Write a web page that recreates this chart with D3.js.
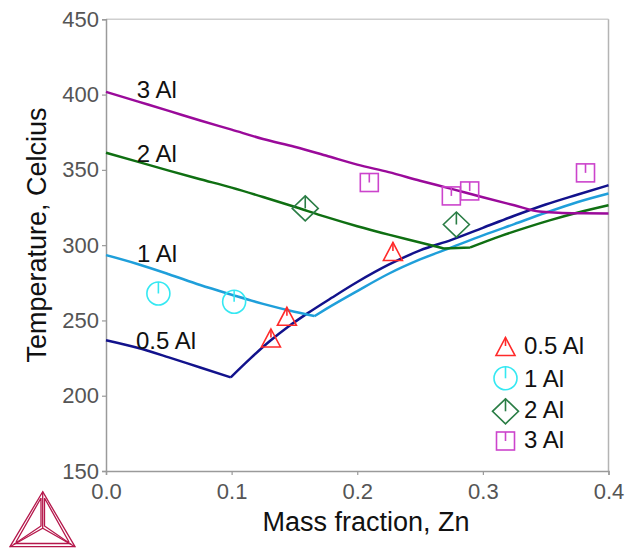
<!DOCTYPE html>
<html>
<head>
<meta charset="utf-8">
<script src="https://cdn.jsdelivr.net/npm/d3@7"></script>
<style>
  html, body { margin: 0; padding: 0; background: #fff; }
  svg { display: block; font-family: "Liberation Sans", Arial, sans-serif; }
</style>
</head>
<body>
<svg id="chart" width="631" height="548"></svg>
<script>
// ---- Data ----
const xTicks = [0.0, 0.1, 0.2, 0.3, 0.4];
const yTicks = [150, 200, 250, 300, 350, 400, 450];

// Calculated lines: mass fraction Zn vs temperature (Celcius)
const line05AlX = [0, 0.025, 0.05, 0.075, 0.0993, 0.115, 0.13, 0.145, 0.16, 0.18, 0.2, 0.225, 0.25, 0.275, 0.3, 0.325, 0.35, 0.375, 0.4];
const line05AlT = [236.9, 231.9, 225.5, 218.7, 212.2, 224.8, 236, 245.8, 254.5, 265.2, 275.5, 287, 296.5, 303.5, 311.5, 319.5, 327, 333.5, 339.8];

const line1AlX = [0, 0.025, 0.05, 0.075, 0.1, 0.125, 0.15, 0.166, 0.175, 0.2, 0.225, 0.25, 0.275, 0.3, 0.325, 0.35, 0.375, 0.4];
const line1AlT = [293.4, 287.5, 280.7, 273.5, 267.1, 261, 255.8, 252.9, 257.5, 269.5, 281, 290.5, 298.5, 306.5, 314, 321.5, 328.5, 334.3];

const line2AlX = [0, 0.025, 0.05, 0.075, 0.1, 0.125, 0.15, 0.175, 0.2, 0.225, 0.25, 0.2688, 0.29, 0.314, 0.335, 0.3538, 0.375, 0.4];
const line2AlT = [361.4, 355.5, 349.5, 343.8, 338.2, 332, 325.5, 318.8, 312.6, 307, 301.8, 297.8, 298.5, 306, 311.8, 316.6, 321.5, 326.5];

const line3AlX = [0, 0.025, 0.05, 0.075, 0.1, 0.125, 0.15, 0.175, 0.2, 0.225, 0.25, 0.275, 0.3, 0.325, 0.345, 0.36, 0.38, 0.4];
const line3AlT = [401.8, 395.5, 389.2, 382.8, 376.7, 370.5, 365.3, 359.5, 353.5, 348.5, 342.8, 337.4, 331.8, 326.5, 322.3, 321.6, 321.2, 321];

// Experimental points
const exp05AlX = [0.1313, 0.144, 0.2284];
const exp05AlT = [238, 252.4, 295.5];
const exp1AlX = [0.0417, 0.102];
const exp1AlT = [267.9, 262.4];
const exp2AlX = [0.1586, 0.2789];
const exp2AlT = [324.4, 313.7];
const exp3AlX = [0.2096, 0.2749, 0.2895, 0.3817];
const exp3AlT = [341.6, 332.7, 336.0, 348.0];

const seriesNames = ["0.5 Al", "1 Al", "2 Al", "3 Al"];

// ---- Styling / layout ----
const lineColors = ["#12128c", "#1f9fda", "#0f6f12", "#9a0a9a"];
const markerColors = ["#ff2a2a", "#35e8f2", "#2a7d45", "#cc44cc"];
const markerShapes = ["triangle", "circle", "diamond", "square"];

const svg = d3.select("#chart");
const x = d3.scaleLinear().domain([0, 0.4]).range([106, 608.5]);
const y = d3.scaleLinear().domain([150, 450]).range([471, 19.3]);

// frame (top/right light)
svg.append("line").attr("x1", x(0)).attr("x2", x(0.4)).attr("y1", y(450)).attr("y2", y(450))
  .attr("stroke", "#cfcfcf").attr("stroke-width", 1.5);
svg.append("line").attr("x1", x(0.4)).attr("x2", x(0.4)).attr("y1", y(450)).attr("y2", y(150))
  .attr("stroke", "#b4b4b4").attr("stroke-width", 1.5);

// axes
const yAxis = svg.append("g").attr("transform", `translate(${x(0)},0)`)
  .call(d3.axisLeft(y).tickValues(yTicks).tickFormat(d3.format("d")).tickSize(4).tickPadding(3));
const xAxis = svg.append("g").attr("transform", `translate(0,${y(150)})`)
  .call(d3.axisBottom(x).tickValues(xTicks).tickFormat(d3.format(".1f")).tickSize(4).tickPadding(8));
[yAxis, xAxis].forEach(g => {
  g.select(".domain").attr("stroke", "#9a9a9a").attr("stroke-width", 1.5);
  g.selectAll(".tick line").attr("stroke", "#9a9a9a").attr("stroke-width", 1.2);
  g.selectAll(".tick text").attr("fill", "#555").style("font-size", "22px")
    .style("font-family", "'Liberation Sans', Arial, sans-serif");
});

// axis titles
svg.append("text").attr("x", 366).attr("y", 530.5).attr("text-anchor", "middle")
  .style("font-size", "27px").attr("fill", "#111").text("Mass fraction, Zn");
svg.append("text").attr("transform", "translate(45.5,235) rotate(-90)").attr("text-anchor", "middle")
  .style("font-size", "27px").attr("fill", "#111").text("Temperature, Celcius");

// lines: split at sharp bends, smooth each piece
const lineData = [
  d3.zip(line05AlX, line05AlT),
  d3.zip(line1AlX, line1AlT),
  d3.zip(line2AlX, line2AlT),
  d3.zip(line3AlX, line3AlT)
];
const lineGen = d3.line().x(d => x(d[0])).y(d => y(d[1])).curve(d3.curveMonotoneX);
function splitAtBends(pts) {
  const pieces = [];
  let cur = [pts[0]];
  for (let i = 1; i < pts.length; i++) {
    cur.push(pts[i]);
    if (i < pts.length - 1) {
      const a1 = Math.atan2(y(pts[i][1]) - y(pts[i-1][1]), x(pts[i][0]) - x(pts[i-1][0]));
      const a2 = Math.atan2(y(pts[i+1][1]) - y(pts[i][1]), x(pts[i+1][0]) - x(pts[i][0]));
      if (Math.abs(a2 - a1) > 0.22) { pieces.push(cur); cur = [pts[i]]; }
    }
  }
  pieces.push(cur);
  return pieces;
}
const plot = svg.append("g");
lineData.forEach((d, i) => {
  const dStr = splitAtBends(d).map(p => lineGen(p)).join("");
  plot.append("path").attr("d", dStr).attr("fill", "none")
    .attr("stroke", lineColors[i]).attr("stroke-width", 2.5).attr("stroke-linejoin", "round");
});

// line labels
const labelPos = [[136, 349.3], [137, 261.7], [136.7, 161.7], [136.7, 98.3]];
seriesNames.forEach((n, i) => {
  svg.append("text").attr("x", labelPos[i][0]).attr("y", labelPos[i][1])
    .style("font-size", "24px").attr("fill", "#111").text(n);
});

// marker drawing
function drawMarker(g, shape, cx, cy, color) {
  const s = g.append("g").attr("transform", `translate(${cx},${cy})`)
    .attr("fill", "none").attr("stroke", color).attr("stroke-width", 1.6);
  if (shape === "triangle") {
    s.append("path").attr("d", "M0,-9.5 L9.5,8.5 L-9.5,8.5 Z");
    s.append("line").attr("x1", 0).attr("x2", 0).attr("y1", -9.5).attr("y2", -1);
  } else if (shape === "circle") {
    s.append("circle").attr("r", 11.5);
    s.append("line").attr("x1", 0).attr("x2", 0).attr("y1", -11.5).attr("y2", 0);
  } else if (shape === "diamond") {
    s.append("path").attr("d", "M0,-12.5 L13,0 L0,12.5 L-13,0 Z");
    s.append("line").attr("x1", 0).attr("x2", 0).attr("y1", -12.5).attr("y2", 0);
  } else {
    s.append("rect").attr("x", -9).attr("y", -9).attr("width", 18).attr("height", 18);
    s.append("line").attr("x1", 0).attr("x2", 0).attr("y1", -9).attr("y2", 0);
  }
}

const expData = [
  d3.zip(exp05AlX, exp05AlT),
  d3.zip(exp1AlX, exp1AlT),
  d3.zip(exp2AlX, exp2AlT),
  d3.zip(exp3AlX, exp3AlT)
];
const markers = svg.append("g");
expData.forEach((pts, i) => {
  pts.forEach(p => drawMarker(markers, markerShapes[i], x(p[0]), y(p[1]), markerColors[i]));
});

// legend
const legSymY = [347, 378.3, 411.3, 441];
const legTextY = [354, 386.5, 418.3, 448.3];
const legend = svg.append("g");
seriesNames.forEach((n, i) => {
  drawMarker(legend, markerShapes[i], 505.5, legSymY[i], markerColors[i]);
  legend.append("text").attr("x", 524).attr("y", legTextY[i])
    .style("font-size", "24px").attr("fill", "#111").text(n);
});

// logo (tetrahedron wireframe)
const logo = svg.append("g").attr("fill", "none").attr("stroke", "#b5174b")
  .attr("stroke-width", 1.3).attr("stroke-linejoin", "miter");
const T = [42.7, 491.7], L = [10, 546.7], R = [75, 546.7], C = [42.7, 528.3];
logo.append("path").attr("d", `M${T}L${R}L${L}Z`);
logo.append("path").attr("d", `M${T}L${C}M${L}L${C}L${R}`);
logo.append("path").attr("d", `M41,498 L41,526 L15,543.5 L70,543.5 L44.5,526 L44.5,498 M41,498 L16,542 M44.5,498 L69,542`);
</script>
</body>
</html>
